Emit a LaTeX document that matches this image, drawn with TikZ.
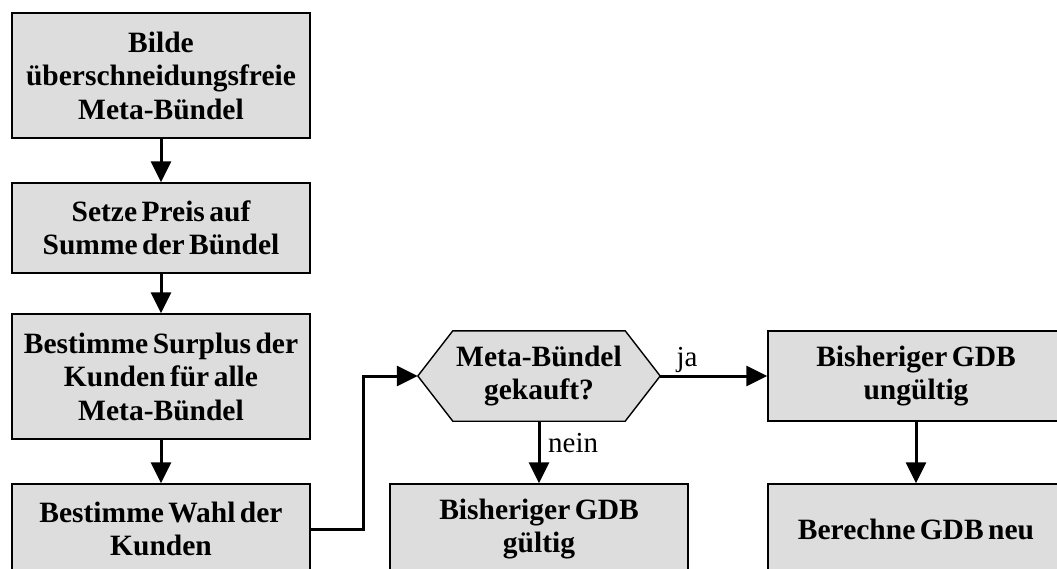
\documentclass[tikz,border=0pt]{standalone}
\usepackage{fontspec}
\setmainfont{Liberation Serif}[WordSpace=0.6]
\usetikzlibrary{arrows.meta,calc}
\definecolor{boxfill}{RGB}{221,221,221}
\begin{document}
\begin{tikzpicture}[x=1pt,y=-1pt,
  stepbox/.style={draw=black,line width=1.4pt,fill=boxfill,align=center,
    inner sep=0pt,font=\fontsize{29.5}{33.5}\selectfont\bfseries},
  conn/.style={line width=3pt,-{Triangle[length=21pt,width=20pt]}},
  lbl/.style={inner sep=0pt,font=\fontsize{29}{33.5}\selectfont}]
  \useasboundingbox (0,0) rectangle (1057,569);
  \begin{scope}
  \clip (0,0) rectangle (1057,569);
  % left column
  \node[stepbox,minimum width=298pt,minimum height=125pt] (b1) at (161,75.5)
    {Bilde\\überschneidungsfreie\\Meta-Bündel};
  \node[stepbox,minimum width=298pt,minimum height=90pt] (b2) at (161,228)
    {Setze Preis auf\\Summe der Bündel};
  \node[stepbox,minimum width=298pt,minimum height=125pt] (b3) at (161,376.5)
    {Bestimme Surplus der\\Kunden für alle\\Meta-Bündel};
  \node[stepbox,minimum width=298pt,minimum height=90pt] (b4) at (161,529)
    {Bestimme Wahl der\\Kunden};
  % decision
  \node[minimum width=242pt,minimum height=90pt,inner sep=0pt] (hex) at (539,376) {};
  \draw[line width=1.4pt,fill=boxfill] (hex.west) -- ($(hex.north west)+(35,0)$)
    -- ($(hex.north east)+(-35,0)$) -- (hex.east) -- ($(hex.south east)+(-35,0)$)
    -- ($(hex.south west)+(35,0)$) -- cycle;
  \node[align=center,inner sep=0pt,font=\fontsize{29.5}{33.5}\selectfont\bfseries]
    (hextext) at (hex.center) {Meta-Bündel\\gekauft?};
  % outcomes
  \node[stepbox,minimum width=298pt,minimum height=90pt] (g1) at (539,529)
    {Bisheriger GDB\\gültig};
  \node[stepbox,minimum width=296pt,minimum height=90pt] (u1) at (916,376)
    {Bisheriger GDB\\ungültig};
  \node[stepbox,minimum width=296pt,minimum height=90pt] (n1) at (916,529)
    {Berechne GDB neu};
  % connectors
  \coordinate (bend) at (363,529);
  \draw[conn] (b1.south) -- (b2.north);
  \draw[conn] (b2.south) -- (b3.north);
  \draw[conn] (b3.south) -- (b4.north);
  \draw[conn] (b4.east) -- (bend) |- (hex.west);
  \draw[conn] (hex.east) -- (u1.west);
  \draw[conn] (hex.south) -- (g1.north);
  \draw[conn] (u1.south) -- (n1.north);
  % branch labels
  \node[lbl,anchor=base] (ja) at (687,366) {ja};
  \node[lbl,anchor=base west] (nein) at (548,452) {nein};
  \end{scope}
\end{tikzpicture}
\end{document}
